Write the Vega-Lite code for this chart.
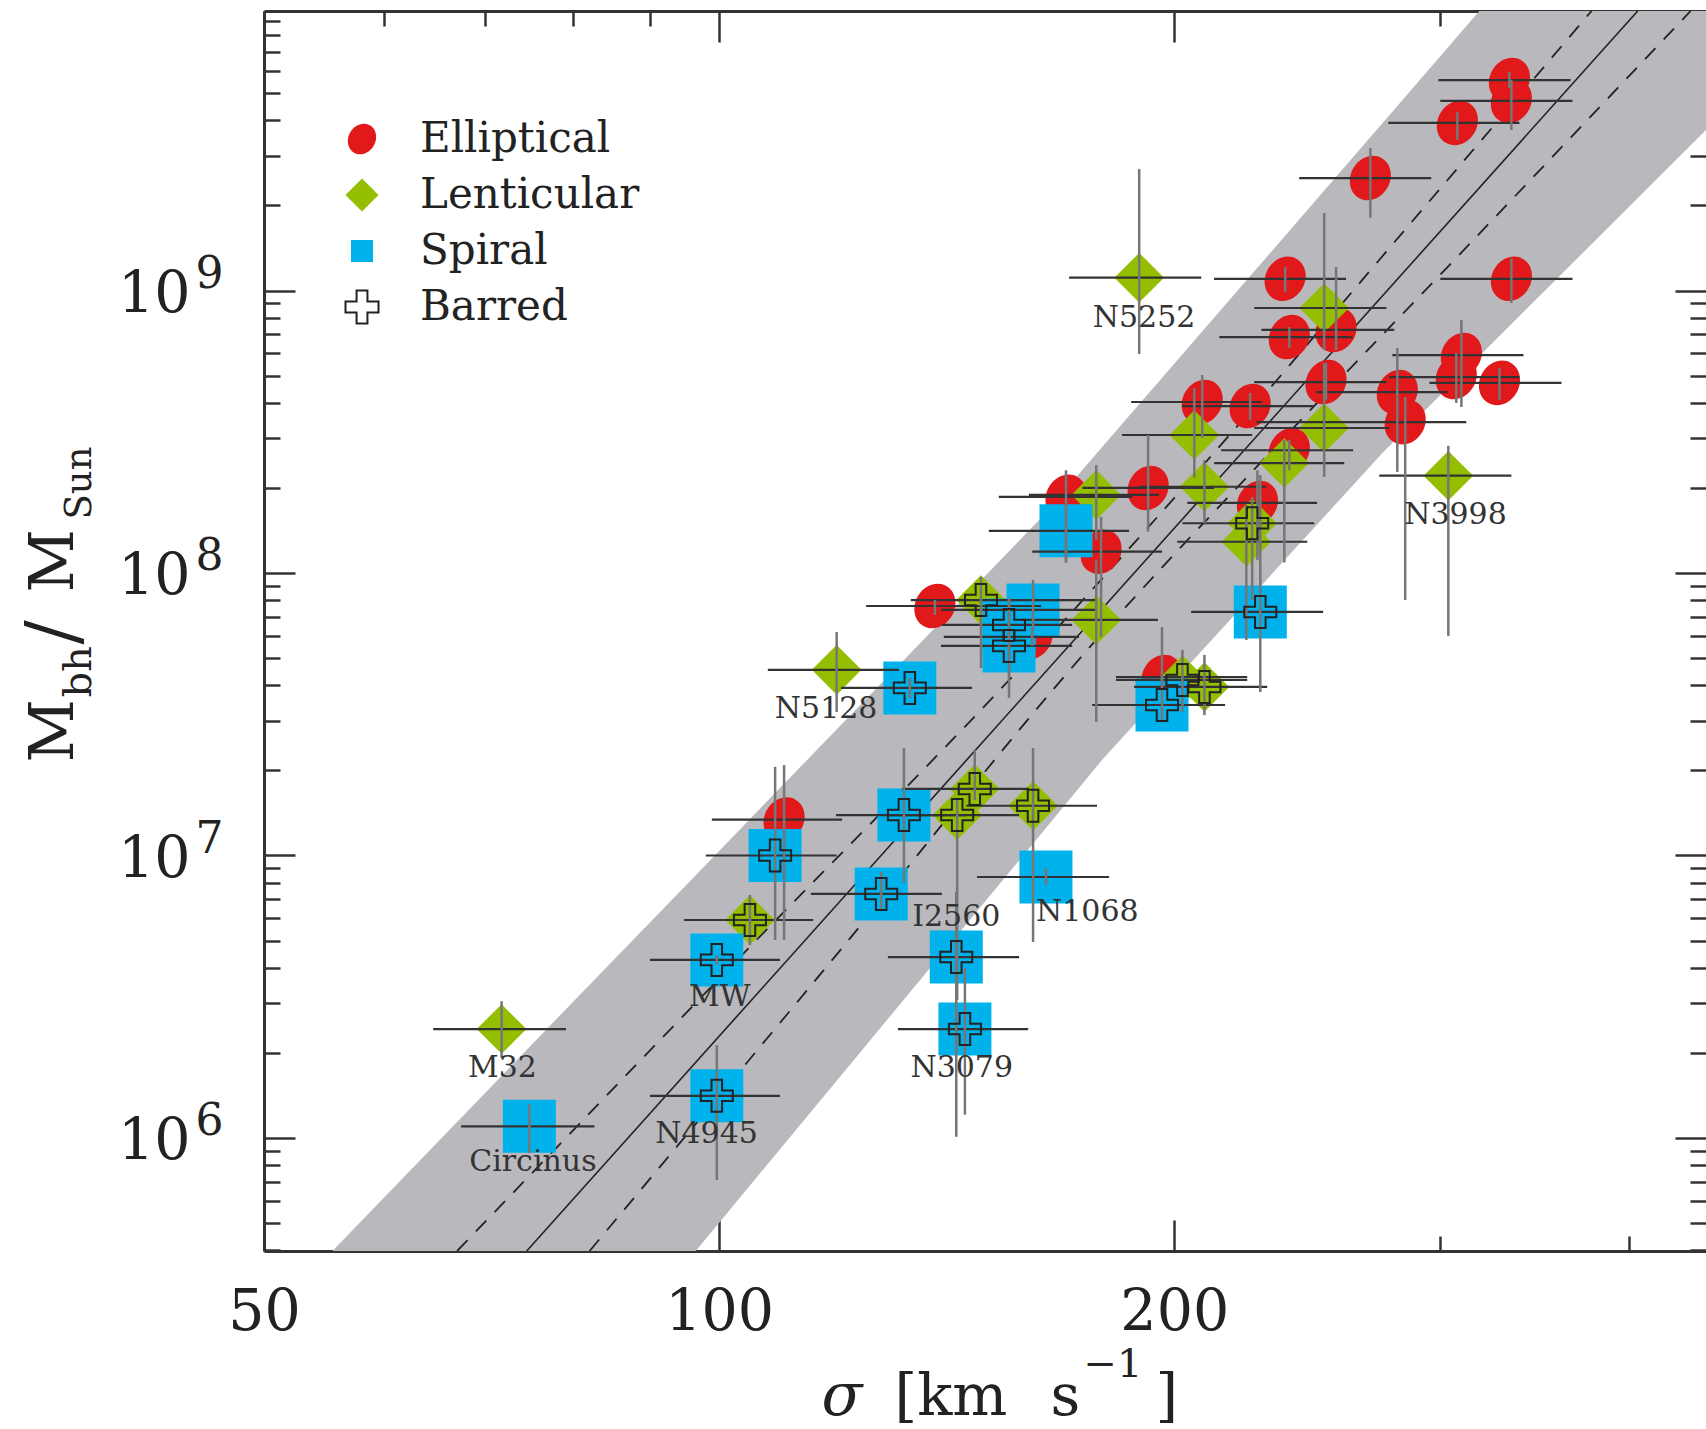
{
  "$schema": "https://vega.github.io/schema/vega-lite/v6.json",
  "width": 1442,
  "height": 1240,
  "autosize": {"type": "none"},
  "padding": {"left": 264, "top": 11, "right": 0, "bottom": 178},
  "background": "white",
  "config": {
    "view": {"stroke": null},
    "axis": {"grid": false, "zindex": 1, "domainColor": "#333333", "domainWidth": 3, "tickColor": "#333333", "tickWidth": 2.5, "labelFont": "DejaVu Serif", "titleFont": "DejaVu Serif", "labelColor": "#222222", "titleColor": "#222222", "titleFontWeight": "normal", "labelOverlap": false, "labelFlush": false, "labelBound": false}
  },
  "datasets": {
    "band": [
      {"s": 55.49, "lo": 100000, "hi": 398100},
      {"s": 84.9, "lo": 100000, "hi": 4200000},
      {"s": 96.5, "lo": 398100, "hi": 8520000},
      {"s": 162.8, "lo": 11700000, "hi": 154000000},
      {"s": 179.2, "lo": 21800000, "hi": 279000000},
      {"s": 274.6, "lo": 266000000, "hi": 3910000000},
      {"s": 318.3, "lo": 586000000, "hi": 9760000000},
      {"s": 449.5, "lo": 3700000000, "hi": 20000000000}
    ],
    "fit": [
      {"k": "L", "s": 67.1, "m": 398100}, {"k": "L", "s": 102.8, "m": 4270000}, {"k": "L", "s": 162.3, "m": 53400000}, {"k": "L", "s": 213.2, "m": 272000000}, {"k": "L", "s": 276.8, "m": 1390000000}, {"k": "L", "s": 377.6, "m": 9760000000},
      {"k": "R", "s": 82.1, "m": 398100}, {"k": "R", "s": 118.8, "m": 4270000}, {"k": "R", "s": 175.2, "m": 53400000}, {"k": "R", "s": 232.2, "m": 272000000}, {"k": "R", "s": 310.8, "m": 1390000000}, {"k": "R", "s": 439.1, "m": 9760000000},
      {"k": "C", "s": 74.6, "m": 398100}, {"k": "C", "s": 405.1, "m": 9760000000}
    ],
    "pts": [
      {"t": "Elliptical", "s": 333.2, "s0": 299.0, "s1": 365.7, "m": 5.56e9, "m0": 5.21e9, "m1": 5.94e9},
      {"t": "Elliptical", "s": 334.2, "s0": 299.9, "s1": 366.8, "m": 4.69e9, "m0": 3.70e9, "m1": 5.56e9},
      {"t": "Elliptical", "s": 307.8, "s0": 277.1, "s1": 338.3, "m": 3.92e9, "m0": 3.41e9, "m1": 4.28e9},
      {"t": "Elliptical", "s": 269.6, "s0": 241.9, "s1": 295.8, "m": 2.50e9, "m0": 1.81e9, "m1": 3.19e9},
      {"t": "Elliptical", "s": 236.8, "s0": 212.5, "s1": 259.8, "m": 1.10e9, "m0": 9.88e8, "m1": 1.21e9},
      {"t": "Elliptical", "s": 334.2, "s0": 299.9, "s1": 366.8, "m": 1.10e9, "m0": 9.03e8, "m1": 1.30e9},
      {"t": "Elliptical", "s": 238.3, "s0": 214.2, "s1": 262.3, "m": 6.84e8, "m0": 6.26e8, "m1": 7.43e8},
      {"t": "Elliptical", "s": 255.9, "s0": 228.4, "s1": 279.6, "m": 7.25e8, "m0": 6.16e8, "m1": 1.21e9},
      {"t": "Elliptical", "s": 252.0, "s0": 225.9, "s1": 276.3, "m": 4.74e8, "m0": 4.10e8, "m1": 5.54e8},
      {"t": "Elliptical", "s": 309.7, "s0": 278.8, "s1": 340.4, "m": 5.91e8, "m0": 3.87e8, "m1": 7.86e8},
      {"t": "Elliptical", "s": 307.3, "s0": 277.5, "s1": 338.3, "m": 4.94e8, "m0": 4.00e8, "m1": 6.01e8},
      {"t": "Elliptical", "s": 328.2, "s0": 295.0, "s1": 360.7, "m": 4.71e8, "m0": 4.10e8, "m1": 5.32e8},
      {"t": "Elliptical", "s": 280.9, "s0": 248.3, "s1": 303.2, "m": 4.37e8, "m0": 2.28e8, "m1": 6.26e8},
      {"t": "Elliptical", "s": 284.3, "s0": 226.6, "s1": 312.0, "m": 3.42e8, "m0": 8.02e7, "m1": 4.20e8},
      {"t": "Elliptical", "s": 208.7, "s0": 187.3, "s1": 228.7, "m": 4.03e8, "m0": 3.01e8, "m1": 5.02e8},
      {"t": "Elliptical", "s": 224.5, "s0": 202.5, "s1": 247.5, "m": 3.90e8, "m0": 3.48e8, "m1": 4.34e8},
      {"t": "Elliptical", "s": 238.3, "s0": 214.8, "s1": 262.6, "m": 2.72e8, "m0": 2.31e8, "m1": 2.96e8},
      {"t": "Elliptical", "s": 192.2, "s0": 173.9, "s1": 212.5, "m": 2.00e8, "m0": 1.40e8, "m1": 3.08e8},
      {"t": "Elliptical", "s": 169.6, "s0": 153.1, "s1": 187.6, "m": 1.86e8, "m0": 1.09e8, "m1": 2.31e8},
      {"t": "Elliptical", "s": 178.9, "s0": 161.1, "s1": 196.3, "m": 1.19e8, "m0": 5.94e7, "m1": 1.58e8},
      {"t": "Elliptical", "s": 227.0, "s0": 204.0, "s1": 248.6, "m": 1.77e8, "m0": 1.11e8, "m1": 2.31e8},
      {"t": "Elliptical", "s": 138.9, "s0": 125.1, "s1": 163.3, "m": 7.64e7, "m0": 7.10e7, "m1": 8.02e7},
      {"t": "Elliptical", "s": 161.1, "s0": 140.8, "s1": 173.0, "m": 5.94e7, "m0": 5.52e7, "m1": 6.39e7},
      {"t": "Elliptical", "s": 196.3, "s0": 183.0, "s1": 223.5, "m": 4.28e7, "m0": 3.85e7, "m1": 4.54e7},
      {"t": "Elliptical", "s": 110.4, "s0": 98.9, "s1": 120.6, "m": 1.34e7, "m0": 5.02e6, "m1": 2.09e7},
      {"t": "Lenticular", "s": 189.6, "s0": 170.4, "s1": 208.4, "m": 1.11e9, "m0": 5.96e8, "m1": 2.69e9},
      {"t": "Lenticular", "s": 251.3, "s0": 225.9, "s1": 276.3, "m": 8.67e8, "m0": 6.16e8, "m1": 1.88e9},
      {"t": "Lenticular", "s": 206.2, "s0": 184.7, "s1": 225.2, "m": 3.08e8, "m0": 2.17e8, "m1": 4.52e8},
      {"t": "Lenticular", "s": 251.3, "s0": 225.9, "s1": 277.5, "m": 3.26e8, "m0": 2.19e8, "m1": 5.54e8},
      {"t": "Lenticular", "s": 236.5, "s0": 212.5, "s1": 259.1, "m": 2.45e8, "m0": 1.09e8, "m1": 2.96e8},
      {"t": "Lenticular", "s": 303.6, "s0": 273.3, "s1": 334.2, "m": 2.21e8, "m0": 5.98e7, "m1": 2.82e8},
      {"t": "Lenticular", "s": 177.6, "s0": 160.3, "s1": 195.4, "m": 1.89e8, "m0": 1.31e8, "m1": 2.41e8},
      {"t": "Lenticular", "s": 209.4, "s0": 189.6, "s1": 230.1, "m": 2.02e8, "m0": 1.50e8, "m1": 2.51e8},
      {"t": "Lenticular", "b": "Barred", "s": 225.2, "s0": 202.5, "s1": 247.5, "m": 1.50e8, "m0": 8.02e7, "m1": 1.86e8},
      {"t": "Lenticular", "s": 223.2, "s0": 200.9, "s1": 244.9, "m": 1.29e8, "m0": 5.79e7, "m1": 1.74e8},
      {"t": "Lenticular", "b": "Barred", "s": 149.0, "s0": 133.9, "s1": 177.6, "m": 8.02e7, "m0": 4.61e7, "m1": 9.68e7},
      {"t": "Lenticular", "s": 177.6, "s0": 158.6, "s1": 195.1, "m": 6.82e7, "m0": 2.97e7, "m1": 1.11e8},
      {"t": "Lenticular", "s": 119.6, "s0": 107.7, "s1": 131.5, "m": 4.54e7, "m0": 3.22e7, "m1": 6.18e7},
      {"t": "Lenticular", "b": "Barred", "s": 202.5, "s0": 183.0, "s1": 223.5, "m": 4.18e7, "m0": 3.22e7, "m1": 5.34e7},
      {"t": "Lenticular", "b": "Barred", "s": 209.4, "s0": 188.1, "s1": 230.4, "m": 3.95e7, "m0": 3.14e7, "m1": 5.13e7},
      {"t": "Lenticular", "b": "Barred", "s": 147.6, "s0": 132.1, "s1": 160.3, "m": 1.72e7, "m0": 1.57e7, "m1": 2.36e7},
      {"t": "Lenticular", "b": "Barred", "s": 143.7, "s0": 129.5, "s1": 157.9, "m": 1.39e7, "m0": 3.08e6, "m1": 1.60e7},
      {"t": "Lenticular", "b": "Barred", "s": 161.3, "s0": 145.7, "s1": 177.8, "m": 1.50e7, "m0": 4.94e6, "m1": 2.40e7},
      {"t": "Lenticular", "b": "Barred", "s": 104.8, "s0": 94.8, "s1": 115.4, "m": 5.91e6, "m0": 4.82e6, "m1": 7.25e6},
      {"t": "Lenticular", "s": 71.8, "s0": 64.7, "s1": 79.2, "m": 2.43e6, "m0": 1.92e6, "m1": 3.05e6},
      {"t": "Spiral", "s": 169.6, "s0": 150.8, "s1": 186.7, "m": 1.41e8, "m0": 1.09e8, "m1": 1.74e8},
      {"t": "Spiral", "s": 161.3, "s0": 140.2, "s1": 177.6, "m": 7.40e7, "m0": 6.28e7, "m1": 9.45e7},
      {"t": "Spiral", "b": "Barred", "s": 155.5, "s0": 140.4, "s1": 171.2, "m": 6.55e7, "m0": 4.25e7, "m1": 8.16e7},
      {"t": "Spiral", "b": "Barred", "s": 155.5, "s0": 140.2, "s1": 171.2, "m": 5.52e7, "m0": 3.61e7, "m1": 8.02e7},
      {"t": "Spiral", "b": "Barred", "s": 228.0, "s0": 205.2, "s1": 250.9, "m": 7.28e7, "m0": 3.79e7, "m1": 2.22e8},
      {"t": "Spiral", "b": "Barred", "s": 133.7, "s0": 120.4, "s1": 147.0, "m": 3.92e7, "m0": 3.61e7, "m1": 4.25e7},
      {"t": "Spiral", "b": "Barred", "s": 196.3, "s0": 176.5, "s1": 216.1, "m": 3.41e7, "m0": 2.97e7, "m1": 6.44e7},
      {"t": "Spiral", "b": "Barred", "s": 132.5, "s0": 119.5, "s1": 145.7, "m": 1.39e7, "m0": 7.99e6, "m1": 2.40e7},
      {"t": "Spiral", "b": "Barred", "s": 108.9, "s0": 98.0, "s1": 119.6, "m": 1.00e7, "m0": 5.02e6, "m1": 2.06e7},
      {"t": "Spiral", "b": "Barred", "s": 128.0, "s0": 115.0, "s1": 140.4, "m": 7.31e6, "m0": 6.41e6, "m1": 8.74e6},
      {"t": "Spiral", "s": 164.5, "s0": 148.1, "s1": 181.1, "m": 8.39e6, "m0": 7.86e6, "m1": 9.03e6},
      {"t": "Spiral", "b": "Barred", "s": 99.65, "s0": 90.0, "s1": 109.7, "m": 4.27e6, "m0": 4.10e6, "m1": 4.44e6},
      {"t": "Spiral", "b": "Barred", "s": 143.5, "s0": 129.3, "s1": 157.9, "m": 4.37e6, "m0": 1.01e6, "m1": 7.43e6},
      {"t": "Spiral", "b": "Barred", "s": 145.4, "s0": 131.3, "s1": 160.1, "m": 2.43e6, "m0": 1.21e6, "m1": 4.00e6},
      {"t": "Spiral", "b": "Barred", "s": 99.65, "s0": 90.0, "s1": 109.7, "m": 1.41e6, "m0": 7.10e5, "m1": 2.13e6},
      {"t": "Spiral", "s": 74.9, "s0": 67.5, "s1": 82.7, "m": 1.10e6, "m0": 8.85e5, "m1": 1.32e6}
    ],
    "names": [
      {"lab": "N5252", "ls": 191.0, "lm": 7.99e8},
      {"lab": "N3998", "ls": 306.9, "lm": 1.60e8},
      {"lab": "N5128", "ls": 117.7, "lm": 3.30e7},
      {"lab": "I2560", "ls": 143.5, "lm": 6.06e6},
      {"lab": "N1068", "ls": 175.2, "lm": 6.31e6},
      {"lab": "MW", "ls": 100.1, "lm": 3.16e6},
      {"lab": "M32", "ls": 71.9, "lm": 1.77e6},
      {"lab": "N3079", "ls": 144.7, "lm": 1.77e6},
      {"lab": "N4945", "ls": 98.1, "lm": 1.03e6},
      {"lab": "Circinus", "ls": 75.3, "lm": 8.22e5}
    ]
  },
  "layer": [
    {
      "data": {"name": "band"},
      "mark": {"type": "area", "color": "#b9b9bd", "opacity": 1, "clip": true},
      "encoding": {
        "x": {"field": "s", "type": "quantitative", "scale": {"type": "log", "domain": [50, 449.5], "nice": false},
              "axis": {"orient": "bottom", "values": [50, 100, 200], "ticks": false, "domain": false, "labelExpr": "format(datum.value, 'd')", "labelFontSize": 57, "labelPadding": 33, "labelBaseline": "top",
                       "title": "σ", "titleFontStyle": "italic", "titleFontSize": 60, "titleX": 557, "titleY": 163, "titleAlign": "left", "titleBaseline": "alphabetic", "titleAngle": 0}},
        "y": {"field": "lo", "type": "quantitative", "scale": {"type": "log", "domain": [398000, 9760000000], "nice": false},
              "axis": {"orient": "left", "values": [1000000, 10000000, 100000000, 1000000000], "ticks": false, "domain": false, "labelExpr": "'10'", "labelFontSize": 57, "labelPadding": 74, "labelOffset": 4, "labelAlign": "right", "labelBaseline": "middle",
                       "title": "M", "titleFontSize": 62, "titleX": -192, "titleY": 751, "titleAngle": 270, "titleAlign": "left", "titleBaseline": "alphabetic"}},
        "y2": {"field": "hi"}
      }
    },
    {
      "data": {"name": "fit"},
      "transform": [{"filter": "datum.k === 'L'"}],
      "mark": {"type": "line", "color": "#222222", "strokeWidth": 1.8, "strokeDash": [15, 12], "clip": true, "interpolate": "monotone"},
      "encoding": {
        "x": {"field": "s", "type": "quantitative", "scale": {"type": "log", "domain": [50, 449.5], "nice": false},
              "axis": {"orient": "bottom", "values": [50, 100, 200], "tickSize": -31, "labels": false, "domain": true,
                       "title": "[km", "titleFontSize": 58, "titleX": 630, "titleY": 163, "titleAlign": "left", "titleBaseline": "alphabetic", "titleAngle": 0}},
        "y": {"field": "m", "type": "quantitative", "scale": {"type": "log", "domain": [398000, 9760000000], "nice": false},
              "axis": {"orient": "left", "values": [1000000, 10000000, 100000000, 1000000000], "ticks": false, "domain": false, "labelExpr": "'' + round(log(datum.value) / LN10)", "labelFontSize": 44, "labelPadding": 41, "labelOffset": -16, "labelAlign": "right", "labelBaseline": "middle",
                       "title": "bh", "titleFontSize": 40, "titleX": -174, "titleY": 686, "titleAngle": 270, "titleAlign": "left", "titleBaseline": "alphabetic"}}
      }
    },
    {
      "data": {"name": "fit"},
      "transform": [{"filter": "datum.k === 'R'"}],
      "mark": {"type": "line", "color": "#222222", "strokeWidth": 1.8, "strokeDash": [15, 12], "clip": true, "interpolate": "monotone"},
      "encoding": {
        "x": {"field": "s", "type": "quantitative", "scale": {"type": "log", "domain": [50, 449.5], "nice": false},
              "axis": {"orient": "bottom", "values": [60, 70, 80, 90, 300, 400], "tickSize": -15, "labels": false, "domain": false,
                       "title": "s", "titleFontSize": 58, "titleX": 786, "titleY": 163, "titleAlign": "left", "titleBaseline": "alphabetic", "titleAngle": 0}},
        "y": {"field": "m", "type": "quantitative", "scale": {"type": "log", "domain": [398000, 9760000000], "nice": false},
              "axis": {"orient": "left", "values": [1000000, 10000000, 100000000, 1000000000], "tickSize": -31, "labels": false, "domain": true,
                       "title": "/", "titleFontSize": 72, "titleX": -188, "titleY": 633, "titleAngle": 270, "titleAlign": "left", "titleBaseline": "alphabetic"}}
      }
    },
    {
      "data": {"name": "fit"},
      "transform": [{"filter": "datum.k === 'C'"}],
      "mark": {"type": "line", "color": "#222222", "strokeWidth": 1.6, "clip": true},
      "encoding": {
        "x": {"field": "s", "type": "quantitative", "scale": {"type": "log", "domain": [50, 449.5], "nice": false},
              "axis": {"orient": "top", "values": [50, 100, 200], "tickSize": -31, "labels": false, "domain": true,
                       "title": "−1", "titleFontSize": 40, "titleX": 819, "titleY": 1365, "titleAlign": "left", "titleBaseline": "alphabetic", "titleAngle": 0}},
        "y": {"field": "m", "type": "quantitative", "scale": {"type": "log", "domain": [398000, 9760000000], "nice": false},
              "axis": {"orient": "left", "values": [400000, 500000, 600000, 700000, 800000, 900000, 2000000, 3000000, 4000000, 5000000, 6000000, 7000000, 8000000, 9000000, 20000000, 30000000, 40000000, 50000000, 60000000, 70000000, 80000000, 90000000, 200000000, 300000000, 400000000, 500000000, 600000000, 700000000, 800000000, 900000000, 2000000000, 3000000000, 4000000000, 5000000000, 6000000000, 7000000000, 8000000000, 9000000000], "tickSize": -16, "labels": false, "domain": false,
                       "title": "M", "titleFontSize": 62, "titleX": -192, "titleY": 581, "titleAngle": 270, "titleAlign": "left", "titleBaseline": "alphabetic"}}
      }
    },
    {
      "data": {"name": "pts"},
      "mark": {"type": "point", "filled": true, "opacity": 1, "strokeWidth": 0},
      "encoding": {
        "x": {"field": "s", "type": "quantitative", "scale": {"type": "log", "domain": [50, 449.5], "nice": false},
              "axis": {"orient": "top", "values": [60, 70, 80, 90, 300, 400], "tickSize": -15, "labels": false, "domain": false,
                       "title": "]", "titleFontSize": 58, "titleX": 891, "titleY": 1403, "titleAlign": "left", "titleBaseline": "alphabetic", "titleAngle": 0}},
        "y": {"field": "m", "type": "quantitative", "scale": {"type": "log", "domain": [398000, 9760000000], "nice": false},
              "axis": {"orient": "right", "values": [1000000, 10000000, 100000000, 1000000000], "tickSize": -31, "labels": false, "domain": false,
                       "title": "Sun", "titleFontSize": 37, "titleX": -1616, "titleY": 508, "titleAngle": 270, "titleAlign": "left", "titleBaseline": "alphabetic"}},
        "fill": {"field": "t", "type": "nominal",
                 "scale": {"domain": ["Elliptical", "Lenticular", "Spiral", "Barred"], "range": ["#e2191b", "#94be00", "#00b2ec", "transparent"]},
                 "legend": {"orient": "none", "legendX": 77, "legendY": 107, "title": null, "padding": 0, "labelFont": "DejaVu Serif", "labelFontSize": 42, "labelColor": "#222222", "labelOffset": 37, "rowPadding": 14, "symbolSize": 1100, "symbolOpacity": 1, "labelLimit": 500,
                            "encode": {"symbols": {"update": {"stroke": {"value": "#222222"}, "strokeWidth": {"signal": "datum.value === 'Barred' ? 2 : 0"}, "size": {"signal": "datum.value === 'Spiral' ? 484 : (datum.value === 'Elliptical' ? 1000 : 1089)"}}}}}},
        "shape": {"field": "t", "type": "nominal",
                  "scale": {"domain": ["Elliptical", "Lenticular", "Spiral", "Barred"], "range": ["M0.5,-0.866A0.85,1,30,1,1,-0.5,0.866A0.85,1,30,1,1,0.5,-0.866Z", "diamond", "square", "M-1,-0.33H-0.33V-1H0.33V-0.33H1V0.33H0.33V1H-0.33V0.33H-1Z"]},
                  "legend": {"orient": "none", "legendX": 77, "legendY": 107, "title": null, "padding": 0, "labelFont": "DejaVu Serif", "labelFontSize": 42, "labelColor": "#222222", "labelOffset": 37, "rowPadding": 14, "symbolSize": 1100, "symbolOpacity": 1, "labelLimit": 500,
                             "encode": {"symbols": {"update": {"stroke": {"value": "#222222"}, "strokeWidth": {"signal": "datum.value === 'Barred' ? 2 : 0"}, "size": {"signal": "datum.value === 'Spiral' ? 484 : (datum.value === 'Elliptical' ? 1000 : 1089)"}}}}}},
        "size": {"field": "t", "type": "nominal", "scale": {"domain": ["Elliptical", "Lenticular", "Spiral"], "range": [2116, 2809, 1700]}, "legend": null}
      }
    },
    {
      "data": {"name": "pts"},
      "mark": {"type": "rule", "color": "#333333", "strokeWidth": 2.2},
      "encoding": {
        "x": {"field": "s0", "type": "quantitative", "scale": {"type": "log", "domain": [50, 449.5], "nice": false}, "axis": null},
        "x2": {"field": "s1"},
        "y": {"field": "m", "type": "quantitative", "scale": {"type": "log", "domain": [398000, 9760000000], "nice": false},
              "axis": {"orient": "right", "values": [400000, 500000, 600000, 700000, 800000, 900000, 2000000, 3000000, 4000000, 5000000, 6000000, 7000000, 8000000, 9000000, 20000000, 30000000, 40000000, 50000000, 60000000, 70000000, 80000000, 90000000, 200000000, 300000000, 400000000, 500000000, 600000000, 700000000, 800000000, 900000000, 2000000000, 3000000000, 4000000000, 5000000000, 6000000000, 7000000000, 8000000000, 9000000000], "tickSize": -16, "labels": false, "domain": false, "title": null}}
      }
    },
    {
      "data": {"name": "pts"},
      "mark": {"type": "rule", "color": "#767676", "strokeWidth": 2.5},
      "encoding": {
        "x": {"field": "s", "type": "quantitative", "scale": {"type": "log", "domain": [50, 449.5], "nice": false}, "axis": null},
        "y": {"field": "m0", "type": "quantitative", "scale": {"type": "log", "domain": [398000, 9760000000], "nice": false}, "axis": null},
        "y2": {"field": "m1"}
      }
    },
    {
      "data": {"name": "pts"},
      "transform": [{"filter": "datum.b === 'Barred'"}],
      "mark": {"type": "point", "filled": true, "opacity": 1, "stroke": "#222222", "strokeWidth": 2, "size": 1024},
      "encoding": {
        "x": {"field": "s", "type": "quantitative", "scale": {"type": "log", "domain": [50, 449.5], "nice": false}, "axis": null},
        "y": {"field": "m", "type": "quantitative", "scale": {"type": "log", "domain": [398000, 9760000000], "nice": false}, "axis": null},
        "fill": {"field": "b", "type": "nominal", "scale": {"domain": ["Elliptical", "Lenticular", "Spiral", "Barred"], "range": ["#e2191b", "#94be00", "#00b2ec", "transparent"]},
                 "legend": {"orient": "none", "legendX": 77, "legendY": 107, "title": null}},
        "shape": {"field": "b", "type": "nominal", "scale": {"domain": ["Elliptical", "Lenticular", "Spiral", "Barred"], "range": ["M0.5,-0.866A0.85,1,30,1,1,-0.5,0.866A0.85,1,30,1,1,0.5,-0.866Z", "diamond", "square", "M-1,-0.33H-0.33V-1H0.33V-0.33H1V0.33H0.33V1H-0.33V0.33H-1Z"]},
                  "legend": {"orient": "none", "legendX": 77, "legendY": 107, "title": null}}
      }
    },
    {
      "data": {"name": "names"},
      "mark": {"type": "text", "font": "DejaVu Serif", "fontSize": 30, "fill": "#333333", "align": "center", "baseline": "middle"},
      "encoding": {
        "x": {"field": "ls", "type": "quantitative", "scale": {"type": "log", "domain": [50, 449.5], "nice": false}, "axis": null},
        "y": {"field": "lm", "type": "quantitative", "scale": {"type": "log", "domain": [398000, 9760000000], "nice": false}, "axis": null},
        "text": {"field": "lab"}
      }
    }
  ],
  "resolve": {"axis": {"x": "independent", "y": "independent"}}
}
